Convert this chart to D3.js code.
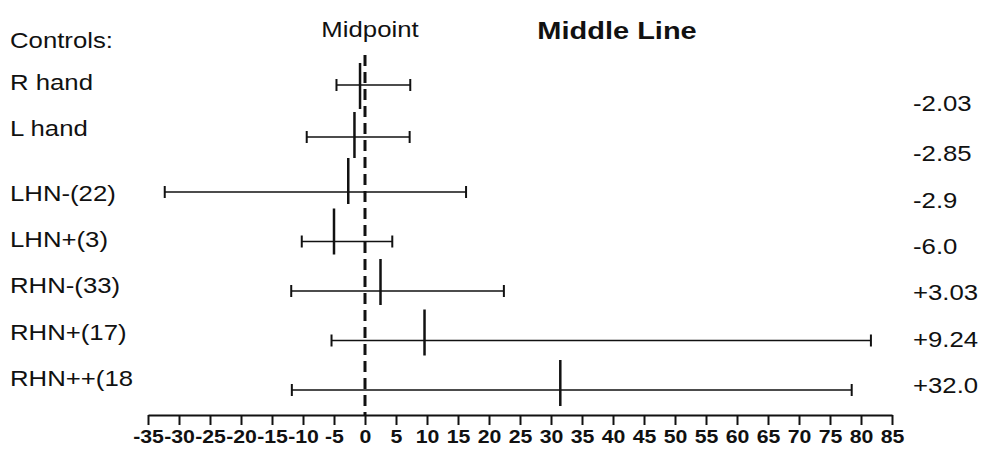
<!doctype html>
<html>
  <head>
    <meta charset="utf-8">
    <title>Middle Line</title>
    <script src="https://cdnjs.cloudflare.com/ajax/libs/d3/7.8.5/d3.min.js"></script>
    <style>
      body { margin: 0; background: #fff; }
      svg text { font-family: "Liberation Sans", Arial, sans-serif; fill: #111; }
    </style>
  </head>
  <body>
    <div id="chart"></div>
    <script>
      // data
      const groups = ["R hand", "L hand", "LHN-(22)", "LHN+(3)", "RHN-(33)", "RHN+(17)", "RHN++(18"];
      const means  = [-0.8, -1.7, -2.7, -5.0, 2.5, 9.6, 31.5];
      const lows   = [-4.6, -9.4, -32.3, -10.2, -11.9, -5.4, -11.8];
      const highs  = [7.3, 7.2, 16.3, 4.4, 22.4, 81.6, 78.5];
      const valueLabels = ["-2.03", "-2.85", "-2.9", "-6.0", "+3.03", "+9.24", "+32.0"];
      const tickValues = [-35, -30, -25, -20, -15, -10, -5, 0, 5, 10, 15, 20, 25, 30, 35, 40, 45, 50, 55, 60, 65, 70, 75, 80, 85];

      const rows = groups.map((g, i) => ({ g, i, mean: means[i], lo: lows[i], hi: highs[i], lab: valueLabels[i] }));

      const width = 985, height = 455;
      const svg = d3.select('#chart').append('svg')
        .attr('width', width)
        .attr('height', height);

      const x = d3.scaleLinear().domain([-35, 85]).range([148, 892]);
      // rows: controls block, then a small gap, then patient groups
      const yRow   = d3.scaleLinear().domain([0, 1, 2, 6]).range([85, 137, 192, 390]);
      const yBar   = d3.scaleLinear().domain([0, 1, 2, 6]).range([63, 112, 158, 360]);
      const yLabel = d3.scaleLinear().domain([0, 1, 2, 6]).range([82, 128, 193, 378]);
      const yValue = d3.scaleLinear().domain([0, 1, 2, 6]).range([103, 153, 200, 385]);

      // the scanned lettering is wider than the font, so stretch it a bit
      const txt = (parent, tx, ty, s, size, anchor, weight, sx) => parent.append('g')
        .attr('transform', `translate(${tx},${ty}) scale(${sx || 1.17},1)`)
        .append('text')
        .attr('text-anchor', anchor || 'start')
        .attr('dominant-baseline', 'central')
        .style('font-size', size + 'px')
        .style('font-weight', weight || 'normal')
        .text(s);

      // headers
      txt(svg, 10, 40, 'Controls:', 22);
      txt(svg, 370, 29, 'Midpoint', 22, 'middle');
      txt(svg, 617, 31, 'Middle Line', 23, 'middle', 'bold', 1.26);

      // axis
      const axis = d3.axisBottom(x)
        .tickValues(tickValues)
        .tickSize(10)
        .tickSizeOuter(0)
        .tickPadding(5)
        .tickFormat(d => String(d));

      const ax = svg.append('g')
        .attr('transform', 'translate(0,415)')
        .call(axis);
      ax.select('.domain').attr('stroke', '#111').attr('stroke-width', 2);
      ax.selectAll('.tick line').attr('stroke', '#111').attr('stroke-width', 2);
      ax.selectAll('.tick text')
        .attr('transform', 'scale(1.12,1)')
        .style('font-size', '19px')
        .style('font-weight', 'bold')
        .style('font-family', '"Liberation Sans", Arial, sans-serif')
        .attr('fill', '#111');

      // midpoint dashed line
      svg.append('line')
        .attr('x1', x(0)).attr('x2', x(0))
        .attr('y1', 55).attr('y2', 415)
        .attr('stroke', '#111')
        .attr('stroke-width', 3)
        .attr('stroke-dasharray', '11,6');

      const g = svg.append('g');

      // whisker lines
      g.selectAll('line.range').data(rows).join('line')
        .attr('class', 'range')
        .attr('x1', d => x(d.lo)).attr('x2', d => x(d.hi))
        .attr('y1', d => yRow(d.i)).attr('y2', d => yRow(d.i))
        .attr('stroke', '#111').attr('stroke-width', 1.5);

      // caps
      const caps = rows.flatMap(d => [{ i: d.i, v: d.lo }, { i: d.i, v: d.hi }]);
      g.selectAll('line.cap').data(caps).join('line')
        .attr('class', 'cap')
        .attr('x1', d => x(d.v)).attr('x2', d => x(d.v))
        .attr('y1', d => yRow(d.i) - 6).attr('y2', d => yRow(d.i) + 6)
        .attr('stroke', '#111').attr('stroke-width', 2);

      // mean bars
      g.selectAll('line.mean').data(rows).join('line')
        .attr('class', 'mean')
        .attr('x1', d => x(d.mean)).attr('x2', d => x(d.mean))
        .attr('y1', d => yBar(d.i)).attr('y2', d => yBar(d.i) + 46)
        .attr('stroke', '#111').attr('stroke-width', 2.5);

      // row labels and right hand values
      rows.forEach(d => {
        txt(svg, 10, yLabel(d.i), d.g, 22);
        txt(svg, 913, yValue(d.i), d.lab, 22);
      });
    </script>
  </body>
</html>
